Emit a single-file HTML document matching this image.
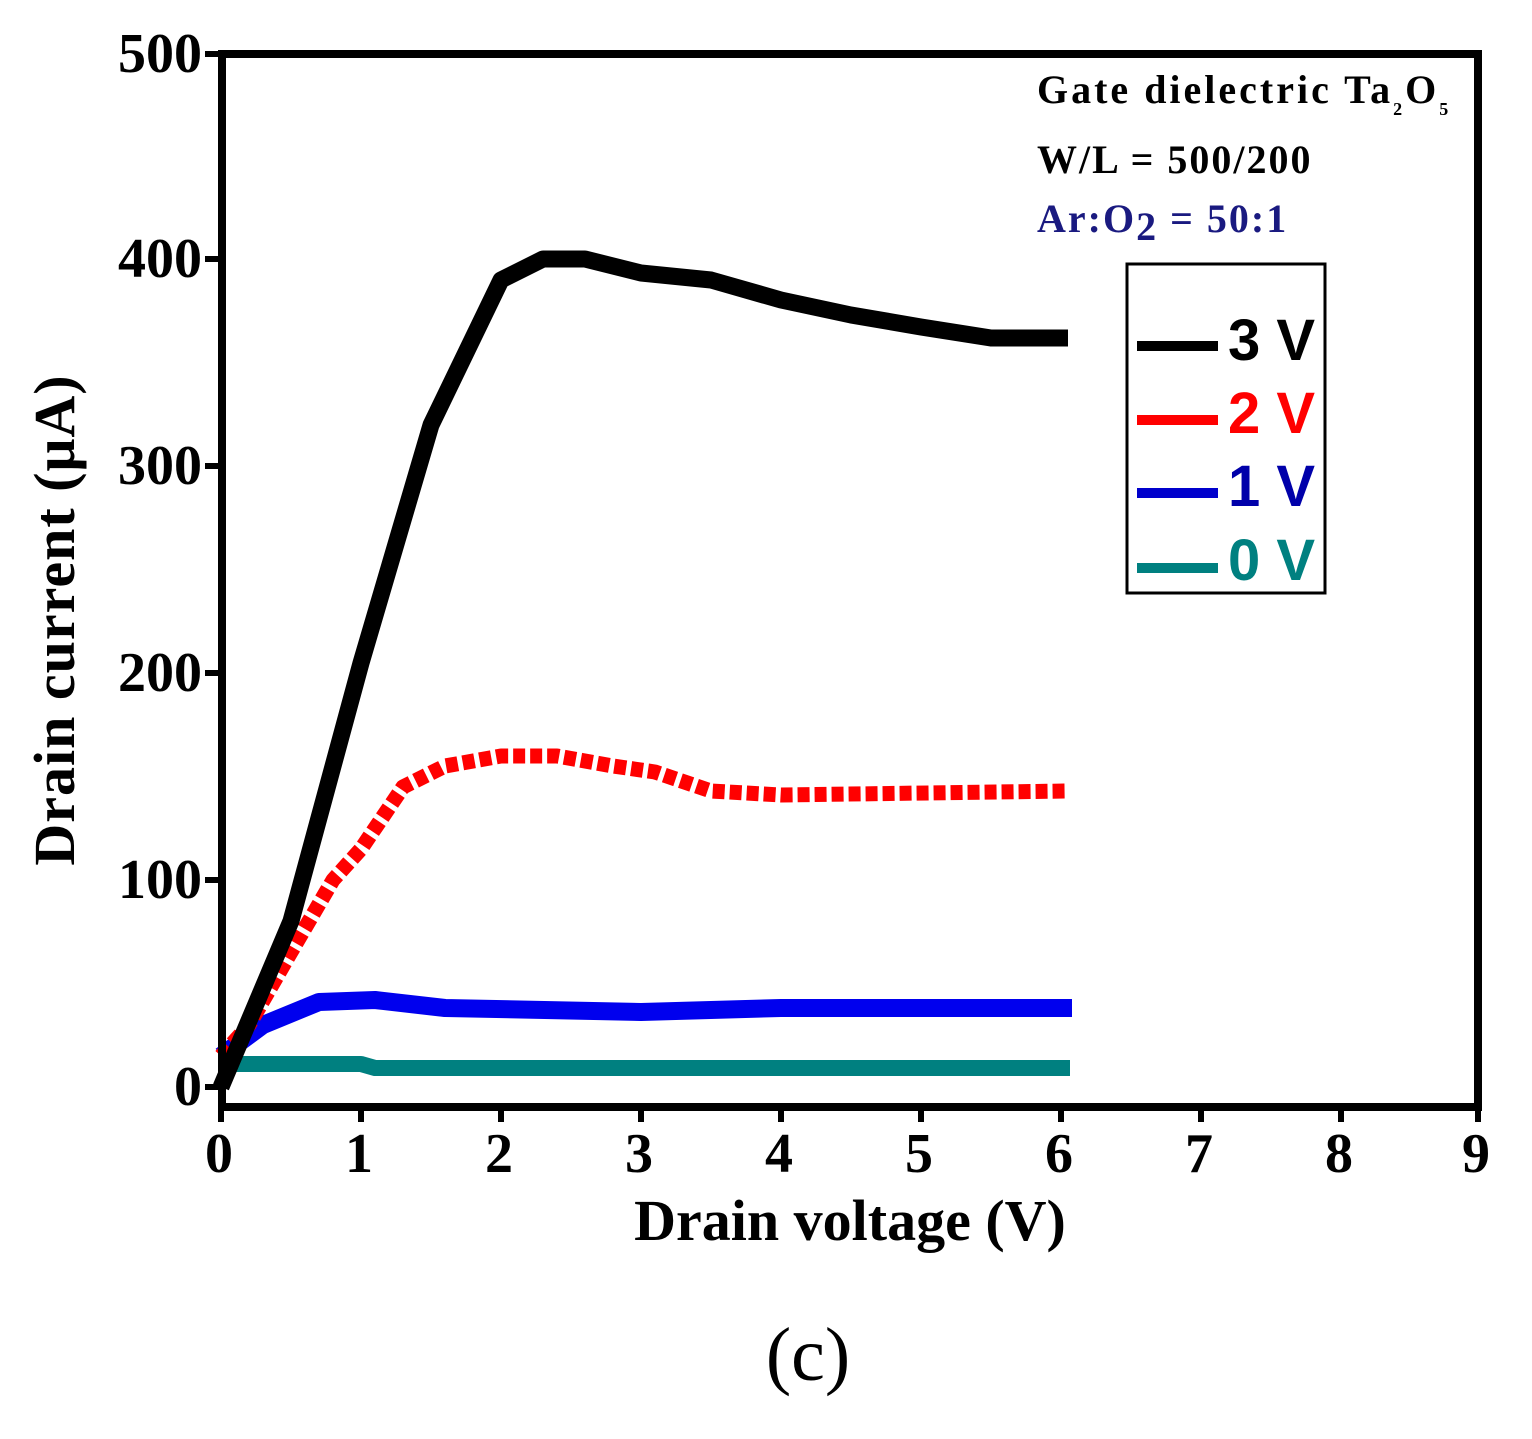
<!DOCTYPE html>
<html><head><style>body{margin:0;background:#fff}</style></head><body>
<svg width="1532" height="1434" xmlns="http://www.w3.org/2000/svg" font-family="Liberation Serif, serif">
<rect width="1532" height="1434" fill="#fff"/>
<g fill="none" stroke-linejoin="round">
<polyline stroke="#008080" stroke-width="16" points="221,1064 361,1064 375,1068 1070,1068"/>
<polyline stroke="#0000ee" stroke-width="18" points="221,1056 263,1025 319,1002 375,1000 445,1008 641,1012 781,1008 1072,1008"/>
<polyline stroke="#ff0000" stroke-width="15" stroke-dasharray="12 5" points="221,1056 249,1025 291,952 333,880 361,849 403,787 445,766 501,756 557,756 613,766 655,772 711,791 781,795 1068,791"/>
<polyline stroke="#000" stroke-width="17" points="221,1087 291,921 361,663 431,425 501,280 543,259 585,259 641,273 711,280 781,300 851,315 921,327 991,338 1068,338"/>
</g>
<rect x="222" y="54" width="1256" height="1053" fill="none" stroke="#000" stroke-width="8"/>
<g stroke="#000" stroke-width="6">
<line x1="205" y1="54" x2="222" y2="54"/><line x1="205" y1="259" x2="222" y2="259"/><line x1="205" y1="466" x2="222" y2="466"/><line x1="205" y1="673" x2="222" y2="673"/><line x1="205" y1="880" x2="222" y2="880"/><line x1="205" y1="1087" x2="222" y2="1087"/>
<line x1="221" y1="1107" x2="221" y2="1122"/><line x1="361" y1="1107" x2="361" y2="1122"/><line x1="501" y1="1107" x2="501" y2="1122"/><line x1="641" y1="1107" x2="641" y2="1122"/><line x1="781" y1="1107" x2="781" y2="1122"/><line x1="921" y1="1107" x2="921" y2="1122"/><line x1="1061" y1="1107" x2="1061" y2="1122"/><line x1="1201" y1="1107" x2="1201" y2="1122"/><line x1="1341" y1="1107" x2="1341" y2="1122"/><line x1="1478" y1="1107" x2="1478" y2="1122"/>
</g>
<g font-size="56" font-weight="bold" text-anchor="end">
<text x="202" y="72">500</text><text x="202" y="277">400</text><text x="202" y="484">300</text><text x="202" y="691">200</text><text x="202" y="898">100</text><text x="202" y="1105">0</text>
</g>
<g font-size="56" font-weight="bold" text-anchor="middle">
<text x="219" y="1172">0</text><text x="359" y="1172">1</text><text x="499" y="1172">2</text><text x="639" y="1172">3</text><text x="779" y="1172">4</text><text x="919" y="1172">5</text><text x="1059" y="1172">6</text><text x="1199" y="1172">7</text><text x="1339" y="1172">8</text><text x="1476" y="1172">9</text>
</g>
<text x="850" y="1240" font-size="58" font-weight="bold" text-anchor="middle">Drain voltage (V)</text>
<text transform="translate(74,620) rotate(-90)" font-size="58" font-weight="bold" text-anchor="middle" letter-spacing="1">Drain current (μA)</text>
<text x="808" y="1380" font-size="76" text-anchor="middle">(c)</text>
<g font-size="40" font-weight="bold">
<text x="1037" y="103" letter-spacing="3">Gate dielectric Ta<tspan font-size="18" dy="12">2</tspan><tspan dy="-12">O</tspan><tspan font-size="18" dy="12">5</tspan></text>
<text x="1037" y="173" letter-spacing="2">W/L = 500/200</text>
<text x="1037" y="232" fill="#1a1a80" letter-spacing="2">Ar:O<tspan dy="8">2</tspan><tspan dy="-8"> = 50:1</tspan></text>
</g>
<rect x="1127" y="264" width="198" height="329" fill="#fff" stroke="#000" stroke-width="3"/>
<g stroke-width="10">
<line x1="1137" y1="346" x2="1218" y2="346" stroke="#000"/>
<line x1="1137" y1="420" x2="1218" y2="420" stroke="#f00"/>
<line x1="1137" y1="493" x2="1218" y2="493" stroke="#00c"/>
<line x1="1137" y1="568" x2="1218" y2="568" stroke="#008080"/>
</g>
<g font-family="Liberation Sans, sans-serif" font-size="58" font-weight="bold">
<text x="1228" y="360">3 V</text>
<text x="1228" y="433" fill="#f00">2 V</text>
<text x="1228" y="506" fill="#0000aa">1 V</text>
<text x="1228" y="580" fill="#008080">0 V</text>
</g>
</svg>
</body></html>
